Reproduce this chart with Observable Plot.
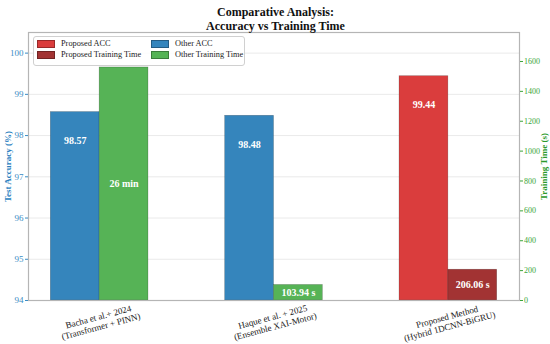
<!DOCTYPE html>
<html><head><meta charset="utf-8">
<script src="https://cdn.jsdelivr.net/npm/d3@7"></script>
<script src="https://cdn.jsdelivr.net/npm/@observablehq/plot@0.6"></script>
<style>
body{margin:0;background:#fff;font-family:"Liberation Serif","Times New Roman",serif}
#wrap{position:relative;width:550px;height:344px}
#legend{position:absolute;left:33px;top:36px;width:210px;height:28px;border:1px solid #d0d0d0;border-radius:3px;background:rgba(255,255,255,0.85);font-family:"Liberation Serif","Times New Roman",serif;font-size:8.3px;color:#222}
.it{position:absolute;display:flex;align-items:center;white-space:nowrap;line-height:10px}
.sw{display:inline-block;width:16px;height:6px;margin-right:6px;border:0.5px solid rgba(0,0,0,0.3)}
</style></head>
<body><div id="wrap"><div id="chart"></div><div id="legend"></div></div>
<script>
// Data
const methods = ["Bacha et al.+ 2024\n(Transformer + PINN)", "Haque et al. + 2025\n(Ensemble XAI-Motor)", "Proposed Method\n(Hybrid 1DCNN-BiGRU)"];
const accuracy = [98.57, 98.48, 99.44];
const trainTime = [1560, 103.94, 206.06];
const timeLabels = ["26 min", "103.94 s", "206.06 s"];
const isProposed = [false, false, true];
const accTicks = [94, 95, 96, 97, 98, 99, 100];
const timeTicks = [0, 200, 400, 600, 800, 1000, 1200, 1400, 1600];
const legendItems = ["Proposed ACC", "Proposed Training Time", "Other ACC", "Other Training Time"];

const colors = {propAcc: "#da3d3d", propTime: "#a23333", otherAcc: "#3585bc", otherTime: "#56b356"};
const accDomain = [94, 100.5];
const timeMax = Math.max(...trainTime) * 1.15;
const toAcc = t => accDomain[0] + t / timeMax * (accDomain[1] - accDomain[0]);
const fromAcc = v => (v - accDomain[0]) / (accDomain[1] - accDomain[0]) * timeMax;
const bw = 0.28;

const rows = methods.map((m, i) => ({i, m, acc: accuracy[i], time: trainTime[i], tl: timeLabels[i], prop: isProposed[i]}));
const font = "Liberation Serif";

const chart = Plot.plot({
  width: 550, height: 344,
  marginLeft: 28, marginRight: 31, marginTop: 32, marginBottom: 44,
  style: {fontFamily: font, background: "white"},
  x: {domain: [-0.408, 2.408], axis: null},
  y: {domain: accDomain, axis: null},
  marks: [
    Plot.ruleY(accTicks, {stroke: "#e4e4e4", strokeWidth: 0.8}),
    Plot.rectY(rows, {x1: d => d.i - bw, x2: d => d.i, y1: accDomain[0], y2: "acc",
      fill: d => d.prop ? colors.propAcc : colors.otherAcc, stroke: "#000", strokeOpacity: 0.3, strokeWidth: 0.6}),
    Plot.rectY(rows, {x1: d => d.i, x2: d => d.i + bw, y1: accDomain[0], y2: d => toAcc(d.time),
      fill: d => d.prop ? colors.propTime : colors.otherTime, stroke: "#000", strokeOpacity: 0.3, strokeWidth: 0.6}),
    Plot.text(rows, {x: d => d.i - bw / 2, y: d => d.acc - 0.7, text: d => d.acc.toFixed(2),
      fill: "white", fontWeight: "bold", fontSize: 10}),
    Plot.text(rows, {x: d => d.i + bw / 2, y: d => toAcc(d.time / 2), text: "tl",
      fill: "white", fontWeight: "bold", fontSize: 10}),
    Plot.frame({stroke: "#b5b5b5", strokeWidth: 1.2}),
    Plot.axisY({ticks: accTicks, tickSize: 3, tickPadding: 2, color: "#3a8cc4", fontSize: 9, label: null, tickFormat: d => String(d)}),
    Plot.axisY({anchor: "right", ticks: timeTicks.map(toAcc), tickSize: 3, tickPadding: 1.5, color: "#3aa53a", fontSize: 8, label: null,
      tickFormat: v => String(Math.round(fromAcc(v)))}),
    Plot.text(rows, {x: "i", frameAnchor: "bottom", dy: 21, text: "m", rotate: -15, fontSize: 9, fill: "#222", lineAnchor: "middle", lineHeight: 1.1}),
    Plot.text(["Test Accuracy (%)"], {frameAnchor: "left", dx: -20, rotate: -90, textAnchor: "middle", fill: "#2a7fbf", fontWeight: "bold", fontSize: 9}),
    Plot.text(["Training Time (s)"], {frameAnchor: "right", dx: 25, rotate: -90, textAnchor: "middle", fill: "#2a9a2a", fontWeight: "bold", fontSize: 9}),
    Plot.text(["Comparative Analysis:\nAccuracy vs Training Time"], {frameAnchor: "top", dx: 1.5, dy: -14, lineAnchor: "middle", lineHeight: 1.15,
      fontWeight: "bold", fontSize: 12, fill: "#111"})
  ]
});
document.getElementById("chart").appendChild(chart);

const leg = document.getElementById("legend");
const legColors = [colors.propAcc, colors.propTime, colors.otherAcc, colors.otherTime];
const pos = [[3, 2], [3, 13], [117, 2], [117, 13]];
legendItems.forEach((t, k) => {
  const d = document.createElement("div");
  d.className = "it";
  d.style.left = pos[k][0] + "px";
  d.style.top = pos[k][1] + "px";
  d.innerHTML = `<span class="sw" style="background:${legColors[k]}"></span><span>${t}</span>`;
  leg.appendChild(d);
});
</script></body></html>
